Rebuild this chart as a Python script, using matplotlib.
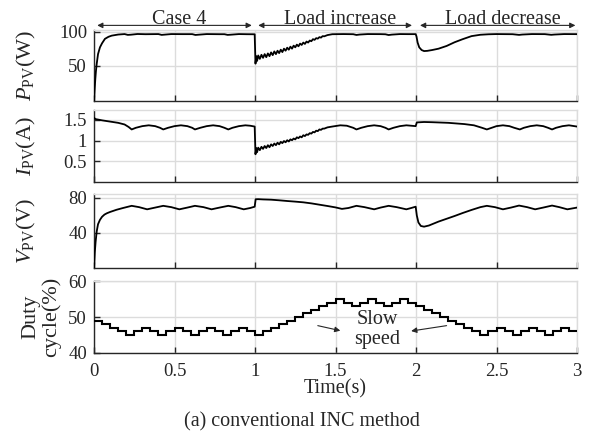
import matplotlib
matplotlib.use('Agg')
import matplotlib.pyplot as plt
import numpy as np

# ---------------- data ----------------
t_P = [0, 0.004, 0.008, 0.012, 0.017, 0.025, 0.037, 0.05, 0.068, 0.09, 0.11, 0.15, 0.19, 0.21,
       0.23, 0.27, 0.32, 0.40, 0.42, 0.44, 0.48, 0.55, 0.61, 0.63, 0.65, 0.70, 0.78, 0.81, 0.83,
       0.85, 0.90, 0.95, 0.998,
       1.003, 1.008, 1.013, 1.02, 1.03, 1.04, 1.05, 1.06, 1.07, 1.08, 1.09, 1.10, 1.11, 1.12,
       1.13, 1.14, 1.15, 1.16, 1.17, 1.18, 1.19, 1.20, 1.21, 1.22, 1.23, 1.24, 1.25, 1.26, 1.27,
       1.28, 1.29, 1.30, 1.31, 1.32, 1.33, 1.34, 1.35, 1.36, 1.37, 1.38, 1.39, 1.40, 1.41, 1.42,
       1.43, 1.45, 1.48, 1.55, 1.61, 1.63, 1.65, 1.70, 1.78, 1.81, 1.83, 1.85, 1.90, 1.95, 1.998,
       2.003, 2.01, 2.02, 2.035, 2.05, 2.07, 2.10, 2.14, 2.19, 2.24, 2.29, 2.345, 2.40, 2.45,
       2.50, 2.60, 2.64, 2.66, 2.72, 2.80, 2.84, 2.86, 2.92, 3.0]
P_pv = [-2, 15, 30, 42, 53, 67, 77, 83, 89.5, 92.5, 94.2, 95.8, 96.5, 95.3,
        95.6, 96.6, 96.3, 96.5, 95.3, 95.7, 96.5, 96.4, 96.4, 95.2, 95.6, 96.5, 96.3, 96.3, 95.3,
        95.6, 96.5, 96.3, 96.2,
        53, 64, 57, 65, 60, 66, 61.5, 67, 62.5, 68, 64, 69.5, 65.5, 71,
        67, 72, 68.5, 73.5, 70, 75, 72, 76.5, 73.5, 78, 75, 79.5, 77, 81, 78.5,
        82.5, 80.5, 84, 82, 85.5, 84, 87, 86, 89, 88, 90.5, 89.8, 92, 91.3, 93.5,
        93.2, 95, 96.3, 96.5, 96.3, 95.2, 95.8, 96.5, 96.4, 96.2, 95.1, 95.7, 96.5, 96.4, 96.4,
        93, 84, 77, 73, 71.5, 71.8, 73, 75, 79, 84.5, 89, 93.5, 95.5, 96.2,
        96.5, 96.3, 95.3, 95.8, 96.5, 96.4, 95.4, 95.8, 96.5, 96.4]

t_I = [0, 0.01, 0.05, 0.10, 0.15, 0.19, 0.215, 0.234, 0.26, 0.30, 0.34, 0.38, 0.41, 0.43,
       0.46, 0.50, 0.54, 0.58, 0.61, 0.627, 0.66, 0.70, 0.74, 0.78, 0.81, 0.834, 0.86, 0.90,
       0.94, 0.97, 0.998,
       1.003, 1.008, 1.013, 1.02, 1.03, 1.04, 1.05, 1.06, 1.07, 1.08, 1.09, 1.10, 1.11, 1.12,
       1.13, 1.14, 1.15, 1.16, 1.17, 1.18, 1.19, 1.20, 1.21, 1.22, 1.23, 1.24, 1.25, 1.26, 1.27,
       1.28, 1.29, 1.30, 1.31, 1.32, 1.33, 1.34, 1.35, 1.36, 1.37, 1.38, 1.39, 1.40, 1.41, 1.42,
       1.43, 1.45, 1.48, 1.53, 1.57, 1.61, 1.63, 1.66, 1.70, 1.74, 1.78, 1.81, 1.83, 1.86, 1.90,
       1.94, 1.97, 1.998,
       2.005, 2.05, 2.10, 2.20, 2.30, 2.36, 2.41, 2.44, 2.47, 2.50, 2.54, 2.58, 2.61, 2.645,
       2.67, 2.71, 2.75, 2.79, 2.82, 2.845, 2.87, 2.91, 2.95, 3.0]
I_pv = [1.55, 1.52, 1.49, 1.46, 1.43, 1.39, 1.33, 1.27, 1.31, 1.35, 1.37, 1.35, 1.31, 1.27,
        1.31, 1.35, 1.37, 1.35, 1.31, 1.27, 1.31, 1.35, 1.37, 1.35, 1.31, 1.27, 1.31, 1.35,
        1.37, 1.36, 1.34,
        0.67, 0.82, 0.72, 0.83, 0.77, 0.85, 0.80, 0.87, 0.82, 0.89, 0.84, 0.91, 0.87, 0.93,
        0.89, 0.95, 0.91, 0.97, 0.94, 0.99, 0.96, 1.01, 0.98, 1.03, 1.01, 1.05, 1.03, 1.08, 1.06,
        1.10, 1.08, 1.13, 1.11, 1.15, 1.14, 1.18, 1.17, 1.21, 1.20, 1.24, 1.23, 1.27, 1.26, 1.29,
        1.29, 1.32, 1.34, 1.37, 1.36, 1.31, 1.27, 1.31, 1.35, 1.37, 1.35, 1.31, 1.27, 1.31, 1.35,
        1.37, 1.36, 1.35,
        1.44, 1.45, 1.445, 1.43, 1.40, 1.37, 1.31, 1.27, 1.31, 1.35, 1.37, 1.35, 1.31, 1.27,
        1.31, 1.35, 1.37, 1.35, 1.31, 1.27, 1.31, 1.35, 1.37, 1.34]

t_V = [0, 0.005, 0.01, 0.017, 0.025, 0.037, 0.05, 0.065, 0.08, 0.10, 0.14, 0.18, 0.234, 0.28,
       0.33, 0.38, 0.43, 0.48, 0.53, 0.58, 0.627, 0.68, 0.73, 0.78, 0.834, 0.88, 0.93, 0.97, 0.998,
       1.004, 1.02, 1.05, 1.10, 1.15, 1.20, 1.25, 1.30, 1.35, 1.40, 1.45, 1.50, 1.54, 1.58, 1.63,
       1.68, 1.74, 1.78, 1.83, 1.88, 1.94, 1.97, 1.998,
       2.005, 2.015, 2.03, 2.05, 2.08, 2.14, 2.19, 2.24, 2.29, 2.345, 2.40, 2.44, 2.49, 2.54,
       2.59, 2.64, 2.69, 2.74, 2.79, 2.845, 2.89, 2.94, 3.0]
V_pv = [0, 18, 30, 42, 50, 55, 58.5, 61, 62.5, 64, 66.5, 68.5, 71, 69.5,
        67, 69, 71, 69.5, 67, 69, 71, 69.5, 67, 69, 71, 69.5, 67, 68.5, 70,
        78.5, 78.6, 78.3, 78, 77.3, 76.5, 75.8, 75, 73.8, 72.3, 70.8, 69.2, 67.5, 68.5, 71,
        69.5, 67, 69, 71, 69.5, 67, 68.5, 70,
        60, 52, 48, 47.2, 48.5, 53, 56.2, 59.4, 62.8, 66.3, 69.5, 71, 69.5, 67,
        69, 71.3, 69.5, 67, 69, 71.3, 69.5, 67, 69]

duty_step = 0.05
duty = [49, 48, 47, 46, 45, 46, 47, 46, 45, 46, 47, 46, 45, 46, 47, 46, 45, 46, 47, 46,
        45, 46, 47, 48, 49, 50, 51, 52, 53, 54, 55, 54, 53, 54, 55, 54, 53, 54, 55, 54,
        53, 52, 51, 50, 49, 48, 47, 46, 45, 46, 47, 46, 45, 46, 47, 46, 45, 46, 47, 46]

x_ticks = [0, 0.5, 1, 1.5, 2, 2.5, 3]
x_ticklabels = ['0', '0.5', '1', '1.5', '2', '2.5', '3']
y_ticks = [[50, 100], [0.5, 1, 1.5], [40, 80], [40, 50, 60]]
y_ticklabels = [['50', '100'], ['0.5', '1', '1.5'], ['40', '80'], ['40', '50', '60']]
y_lims = [(-2, 102.5), (0, 1.74), (0, 84.5), (40, 60)]
y_labels = [r'$P_{\mathrm{PV}}$(W)', r'$I_{\mathrm{PV}}$(A)', r'$V_{\mathrm{PV}}$(V)',
            'Duty\ncycle(%)']
stage_labels = ['Case 4', 'Load increase', 'Load decrease']
stage_spans = [(0.02, 0.98), (1.02, 1.975), (2.025, 2.99)]
stage_centers = [0.53, 1.53, 2.54]

# ---------------- style ----------------
plt.rcParams['font.family'] = ['Liberation Serif', 'DejaVu Serif']
plt.rcParams['mathtext.fontset'] = 'custom'
plt.rcParams['mathtext.rm'] = 'Liberation Serif'
plt.rcParams['mathtext.it'] = 'Liberation Serif:italic'

FS = 13.5
fig = plt.figure(figsize=(5.93, 4.34), dpi=100)
left = 94 / 593
width = 483 / 593
rects = [(30, 101), (110, 182), (194, 268), (281, 353)]
axes = []
for (top, bot) in rects:
    axes.append(fig.add_axes([left, 1 - bot / 434, width, (bot - top) / 434]))

series = [(t_P, P_pv), (t_I, I_pv), (t_V, V_pv)]
for i, ax in enumerate(axes):
    if i < 3:
        ax.plot(series[i][0], series[i][1], color='black', lw=1.3, zorder=3)
    else:
        edges = np.arange(len(duty) + 1) * duty_step
        ax.stairs(duty, edges, color='black', lw=1.5, zorder=3, baseline=None)
    ax.set_xlim(0, 3)
    ax.set_ylim(*y_lims[i])
    ax.set_xticks(x_ticks)
    ax.set_yticks(y_ticks[i])
    ax.set_yticklabels(y_ticklabels[i])
    if i < 3:
        ax.set_xticklabels([])
    else:
        ax.set_xticklabels(x_ticklabels)
    ax.grid(True, color='#dcdcdc', lw=1.0, zorder=0)
    ax.set_axisbelow(True)
    for s in ['top', 'right']:
        ax.spines[s].set_color('#dcdcdc')
        ax.spines[s].set_linewidth(1.0)
    for s in ['left', 'bottom']:
        ax.spines[s].set_color('#262626')
        ax.spines[s].set_linewidth(1.0)
    ax.tick_params(axis='both', direction='in', length=4, width=1.0, color='#262626',
                   labelsize=FS, labelcolor='#262626', pad=5)
    ax.tick_params(axis='x', pad=7)
    ax.tick_params(top=False, right=False)
    if i < 3:
        ax.set_ylabel(y_labels[i], fontsize=16, color='#262626')
        ax.yaxis.set_label_coords(-0.115, 0.5)
    else:
        ax.set_ylabel(y_labels[i], fontsize=16, color='#262626', linespacing=1.05)
        ax.yaxis.set_label_coords(-0.068, 0.5)

axes[3].set_xlabel('Time(s)', fontsize=14.5, color='#262626', labelpad=0)

# stage annotations
ax0 = axes[0]
for lab, (a, b), c in zip(stage_labels, stage_spans, stage_centers):
    ax0.annotate('', xy=(a, 1.065), xytext=(b, 1.065), xycoords=('data', 'axes fraction'),
                 textcoords=('data', 'axes fraction'),
                 arrowprops=dict(arrowstyle='<|-|>', color='#262626', lw=0.8,
                                 mutation_scale=8, shrinkA=0, shrinkB=0))
    ax0.text(c, 1.09, lab, transform=ax0.get_xaxis_transform(), ha='center', va='baseline',
             fontsize=14.5, color='#262626')

# slow speed annotation
ax3 = axes[3]
ax3.text(1.76, 46.6, 'Slow\nspeed', ha='center', va='center', fontsize=14.5,
         color='#262626', linespacing=1.1)
ax3.annotate('', xy=(1.53, 46.2), xytext=(1.39, 47.6),
             arrowprops=dict(arrowstyle='-|>', color='#262626', lw=0.8, mutation_scale=8,
                             shrinkA=0, shrinkB=0))
ax3.annotate('', xy=(1.97, 46.1), xytext=(2.19, 47.6),
             arrowprops=dict(arrowstyle='-|>', color='#262626', lw=0.8, mutation_scale=8,
                             shrinkA=0, shrinkB=0))

fig.text(0.51, 0.027, '(a) conventional INC method', ha='center', va='center',
         fontsize=14.5, color='#262626')

fig.savefig('out.png', dpi=100)
